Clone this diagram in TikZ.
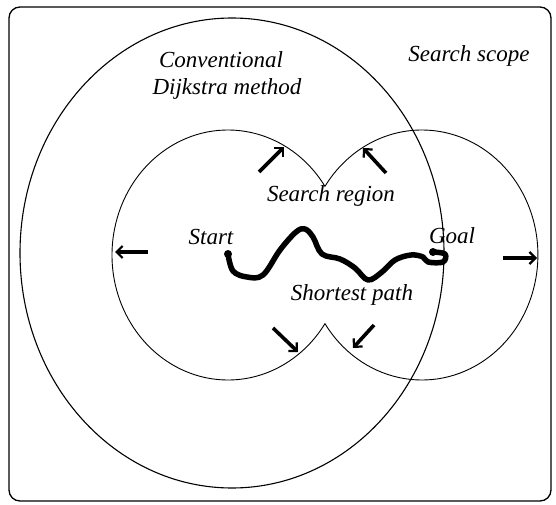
\documentclass[tikz,border=0pt]{standalone}
\usepackage{fontspec}
\setmainfont{Liberation Serif}
\usetikzlibrary{arrows.meta}

\tikzset{
	lbl/.style={anchor=base, inner sep=0pt, font=\fontsize{23}{26}\selectfont\itshape},
	growarrow/.style={line width=3.6pt, -{Straight Barb[length=6pt,width=12pt,line width=2.2pt]}},
	route/.style={line width=5.5pt, line cap=round, line join=round},
}

\begin{document}
\begin{tikzpicture}[x=1pt, y=1pt]
	\useasboundingbox (0,0) rectangle (556,504);
	\draw[line width=1.3pt, rounded corners=11pt] (9,3) rectangle (551,497);

	% conventional search scope
	\coordinate (C) at (232,251);
	\draw[line width=1.1pt] (C) ellipse[x radius=212pt, y radius=235pt];

	% search region: two growing circles, start and goal
	\coordinate (S) at (228,249);
	\coordinate (G) at (422,249);
	\draw[line width=0.9pt] (S) ++(33.3:116 and 125)
		arc[start angle=33.3, end angle=326.7, x radius=116pt, y radius=125pt]
		arc[start angle=-146.7, end angle=146.7, x radius=116pt, y radius=125pt]
		-- cycle;

	% growth arrows
	\foreach \ax/\ay/\bx/\by in {259/332/284/357, 386/331/363/356, 273/176/298/152,
		374/179/353/156, 148/252/115/252, 503/246/537/246}
		\draw[growarrow] (\ax,\ay) -- (\bx,\by);

	% shortest path
	\draw[route] plot[smooth, tension=0.6] coordinates {
		(228,250) (233,233) (247,227) (263,229) (280,254) (296,272) (305,275)
		(313,267) (322,250) (340,245) (355,236) (368,224) (382,232) (395,244)
		(411,249) (423,247) (428,242) (443,242) (445,250) (433,252)};
	\fill (228,250) circle (4pt);
	\fill (433,252) circle (4pt);

	\draw
	(221,436) node[lbl] (conv) {Conventional}
	(227,409) node[lbl] (dijk) {Dijkstra method}
	(469,442) node[lbl] (scope) {Search scope}
	(331,302) node[lbl] (region) {Search region}
	(211,260) node[lbl] (start) {Start}
	(452,261) node[lbl] (goal) {Goal}
	(352,204) node[lbl] (path) {Shortest path}
	;
\end{tikzpicture}
\end{document}
